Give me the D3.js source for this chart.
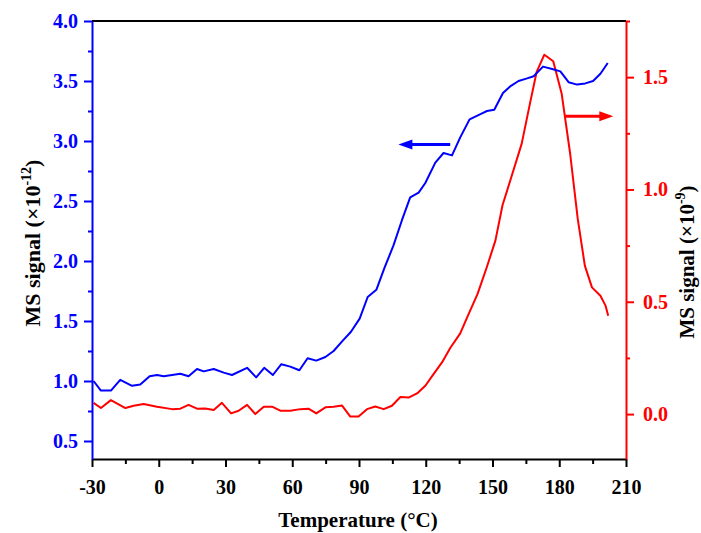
<!DOCTYPE html>
<html>
<head>
<meta charset="utf-8">
<script src="https://cdn.jsdelivr.net/npm/d3@7"></script>
<style>
  body { margin: 0; background: #fff; }
  svg { font-family: "Liberation Serif", "Times New Roman", serif; font-weight: bold; }
</style>
</head>
<body>
<svg id="chart" width="701" height="533"></svg>
<script>
// temperature (°C) / MS signal
const blueTemp = [-29.3, -26, -21.5, -17.3, -12, -8.3, -4.1, -0.8, 2.2, 6, 9.7, 13.4, 17.2, 20.2, 24.7, 29.2, 32.9, 39.7, 43.8, 47.4, 51.3, 55.1, 59.1, 63.2, 66.9, 70.8, 74.9, 78.6, 82.4, 86.4, 90.3, 93.9, 97.8, 101.4, 105.5, 109.3, 113, 116.8, 119.8, 124.3, 128, 131.8, 135.5, 139.7, 145.3, 147.5, 150.8, 154.7, 158.3, 161.7, 165.2, 168.5, 172.7, 176.8, 180.5, 184.2, 188, 191.7, 195.2, 198.5, 201.8];
const blueSignal = [1.00, 0.92, 0.92, 1.01, 0.96, 0.97, 1.04, 1.05, 1.04, 1.05, 1.06, 1.04, 1.10, 1.08, 1.10, 1.07, 1.05, 1.11, 1.03, 1.11, 1.05, 1.14, 1.12, 1.09, 1.19, 1.17, 1.20, 1.25, 1.33, 1.41, 1.52, 1.70, 1.76, 1.94, 2.13, 2.34, 2.53, 2.57, 2.65, 2.82, 2.90, 2.88, 3.03, 3.18, 3.23, 3.25, 3.26, 3.40, 3.46, 3.50, 3.52, 3.54, 3.62, 3.60, 3.58, 3.49, 3.47, 3.48, 3.50, 3.56, 3.65];

const redTemp = [-29.3, -26, -21.5, -15, -11.3, -6.8, -0.8, 6, 9.7, 13.4, 17.2, 20.9, 24.7, 28.4, 32.5, 35.9, 39.7, 43.4, 47.2, 50.9, 54.6, 59.1, 63.6, 67.3, 70.8, 74.9, 78.6, 82.4, 86.1, 89.8, 93.6, 97.3, 101.1, 104.8, 108.6, 112.5, 116.1, 119.8, 123.5, 127.3, 131, 135.5, 139.3, 143.3, 147.5, 151.3, 154.5, 158.3, 163.1, 166.8, 169.8, 173.3, 177.3, 181.1, 184.9, 188.3, 191.5, 194.7, 198.5, 200.8, 202];
const redSignal = [0.050, 0.027, 0.062, 0.027, 0.037, 0.045, 0.033, 0.022, 0.024, 0.041, 0.024, 0.025, 0.018, 0.050, 0.003, 0.015, 0.041, 0.000, 0.033, 0.033, 0.015, 0.015, 0.022, 0.024, 0.003, 0.030, 0.033, 0.038, -0.011, -0.011, 0.022, 0.034, 0.022, 0.037, 0.076, 0.074, 0.092, 0.126, 0.178, 0.230, 0.294, 0.359, 0.446, 0.535, 0.656, 0.772, 0.930, 1.050, 1.203, 1.381, 1.522, 1.600, 1.571, 1.426, 1.159, 0.870, 0.661, 0.564, 0.527, 0.483, 0.438];

const xTicks = [-30, 0, 30, 60, 90, 120, 150, 180, 210];
const leftTicks = [0.5, 1.0, 1.5, 2.0, 2.5, 3.0, 3.5, 4.0];
const rightTicks = [0.0, 0.5, 1.0, 1.5];

const blue = "#0000ff";
const red = "#ff0000";

const margin = { top: 21, left: 92, right: 75, bottom: 74 };
const width = 701 - margin.left - margin.right;
const height = 533 - margin.top - margin.bottom;

const svg = d3.select("#chart");
const g = svg.append("g").attr("transform", `translate(${margin.left},${margin.top})`);

const x = d3.scaleLinear().domain([-30, 210]).range([0, width]);
const yL = d3.scaleLinear().domain([0.35, 4.0]).range([height, 0]);
const yR = d3.scaleLinear().domain([-0.2, 1.75]).range([height, 0]);

// minor ticks first, majors on top
const xMinor = d3.range(-15, 210, 30);
const lMinor = d3.range(0.75, 4.0, 0.5);
const rMinor = [0.25, 0.75, 1.25, 1.75];

g.append("g")
  .attr("transform", `translate(0,${height})`)
  .call(d3.axisBottom(x).tickValues(xMinor).tickSize(5).tickFormat("").tickSizeOuter(0))
  .call(a => a.select(".domain").remove())
  .call(a => a.selectAll("line").attr("stroke", "#000").attr("stroke-width", 2));

g.append("g")
  .call(d3.axisLeft(yL).tickValues(lMinor).tickSize(4).tickFormat("").tickSizeOuter(0))
  .call(a => a.select(".domain").remove())
  .call(a => a.selectAll("line").attr("stroke", blue).attr("stroke-width", 2));

g.append("g")
  .attr("transform", `translate(${width},0)`)
  .call(d3.axisRight(yR).tickValues(rMinor).tickSize(4).tickFormat("").tickSizeOuter(0))
  .call(a => a.select(".domain").remove())
  .call(a => a.selectAll("line").attr("stroke", red).attr("stroke-width", 2));

// top frame
g.append("line")
  .attr("x1", 0).attr("x2", width)
  .attr("y1", 0).attr("y2", 0)
  .attr("stroke", "#000").attr("stroke-width", 2);

const xAxis = g.append("g")
  .attr("transform", `translate(0,${height})`)
  .call(d3.axisBottom(x).tickValues(xTicks).tickFormat(d => String(d)).tickSize(8).tickPadding(13).tickSizeOuter(0));
xAxis.select(".domain").attr("stroke", "#000").attr("stroke-width", 2);
xAxis.selectAll("line").attr("stroke", "#000").attr("stroke-width", 2);
xAxis.selectAll("text")
  .attr("fill", "#000")
  .style("font-size", "20px")
  .style("font-family", "Liberation Serif")
  .style("font-weight", "bold");

const leftAxis = g.append("g")
  .call(d3.axisLeft(yL).tickValues(leftTicks).tickFormat(d3.format(".1f")).tickSize(8).tickPadding(6).tickSizeOuter(0));
leftAxis.select(".domain").attr("stroke", blue).attr("stroke-width", 2);
leftAxis.selectAll("line").attr("stroke", blue).attr("stroke-width", 2);
leftAxis.selectAll("text")
  .attr("fill", blue)
  .style("font-size", "20px")
  .style("font-family", "Liberation Serif")
  .style("font-weight", "bold");

const rightAxis = g.append("g")
  .attr("transform", `translate(${width},0)`)
  .call(d3.axisRight(yR).tickValues(rightTicks).tickFormat(d3.format(".1f")).tickSize(8).tickPadding(9).tickSizeOuter(0));
rightAxis.select(".domain").attr("stroke", red).attr("stroke-width", 2);
rightAxis.selectAll("line").attr("stroke", red).attr("stroke-width", 2);
rightAxis.selectAll("text")
  .attr("fill", red)
  .style("font-size", "20px")
  .style("font-family", "Liberation Serif")
  .style("font-weight", "bold");

// curves
const blueLine = d3.line().x((d, i) => x(blueTemp[i])).y(d => yL(d));
const redLine = d3.line().x((d, i) => x(redTemp[i])).y(d => yR(d));

g.append("path")
  .datum(redSignal)
  .attr("d", redLine)
  .attr("fill", "none")
  .attr("stroke", red)
  .attr("stroke-width", 2)
  .attr("stroke-linejoin", "round");

g.append("path")
  .datum(blueSignal)
  .attr("d", blueLine)
  .attr("fill", "none")
  .attr("stroke", blue)
  .attr("stroke-width", 2)
  .attr("stroke-linejoin", "round");

// arrows pointing to each curve's axis
function arrow(x1, x2, y, color) {
  const dir = x2 > x1 ? 1 : -1;
  g.append("line")
    .attr("x1", x1).attr("x2", x2 - dir * 10)
    .attr("y1", y).attr("y2", y)
    .attr("stroke", color).attr("stroke-width", 3);
  g.append("path")
    .attr("d", `M${x2},${y} L${x2 - dir * 14},${y - 5} L${x2 - dir * 14},${y + 5} Z`)
    .attr("fill", color);
}
arrow(x(131), x(107.7), yL(2.97), blue);
arrow(x(182.7), x(204.3), yR(1.326), red);

// axis titles
svg.append("text")
  .attr("x", 358).attr("y", 527)
  .attr("text-anchor", "middle")
  .style("font-size", "21px")
  .text("Temperature (°C)");

const lt = svg.append("text")
  .attr("transform", "translate(40,243) rotate(-90)")
  .attr("text-anchor", "middle")
  .style("font-size", "22px");
lt.append("tspan").text("MS signal (×10");
lt.append("tspan").attr("dy", -9).style("font-size", "14px").text("-12");
lt.append("tspan").attr("dy", 9).text(")");

const rt = svg.append("text")
  .attr("transform", "translate(694,262) rotate(-90)")
  .attr("text-anchor", "middle")
  .style("font-size", "21px");
rt.append("tspan").text("MS signal (×10");
rt.append("tspan").attr("dy", -9).style("font-size", "14px").text("-9");
rt.append("tspan").attr("dy", 9).text(")");
</script>
</body>
</html>
